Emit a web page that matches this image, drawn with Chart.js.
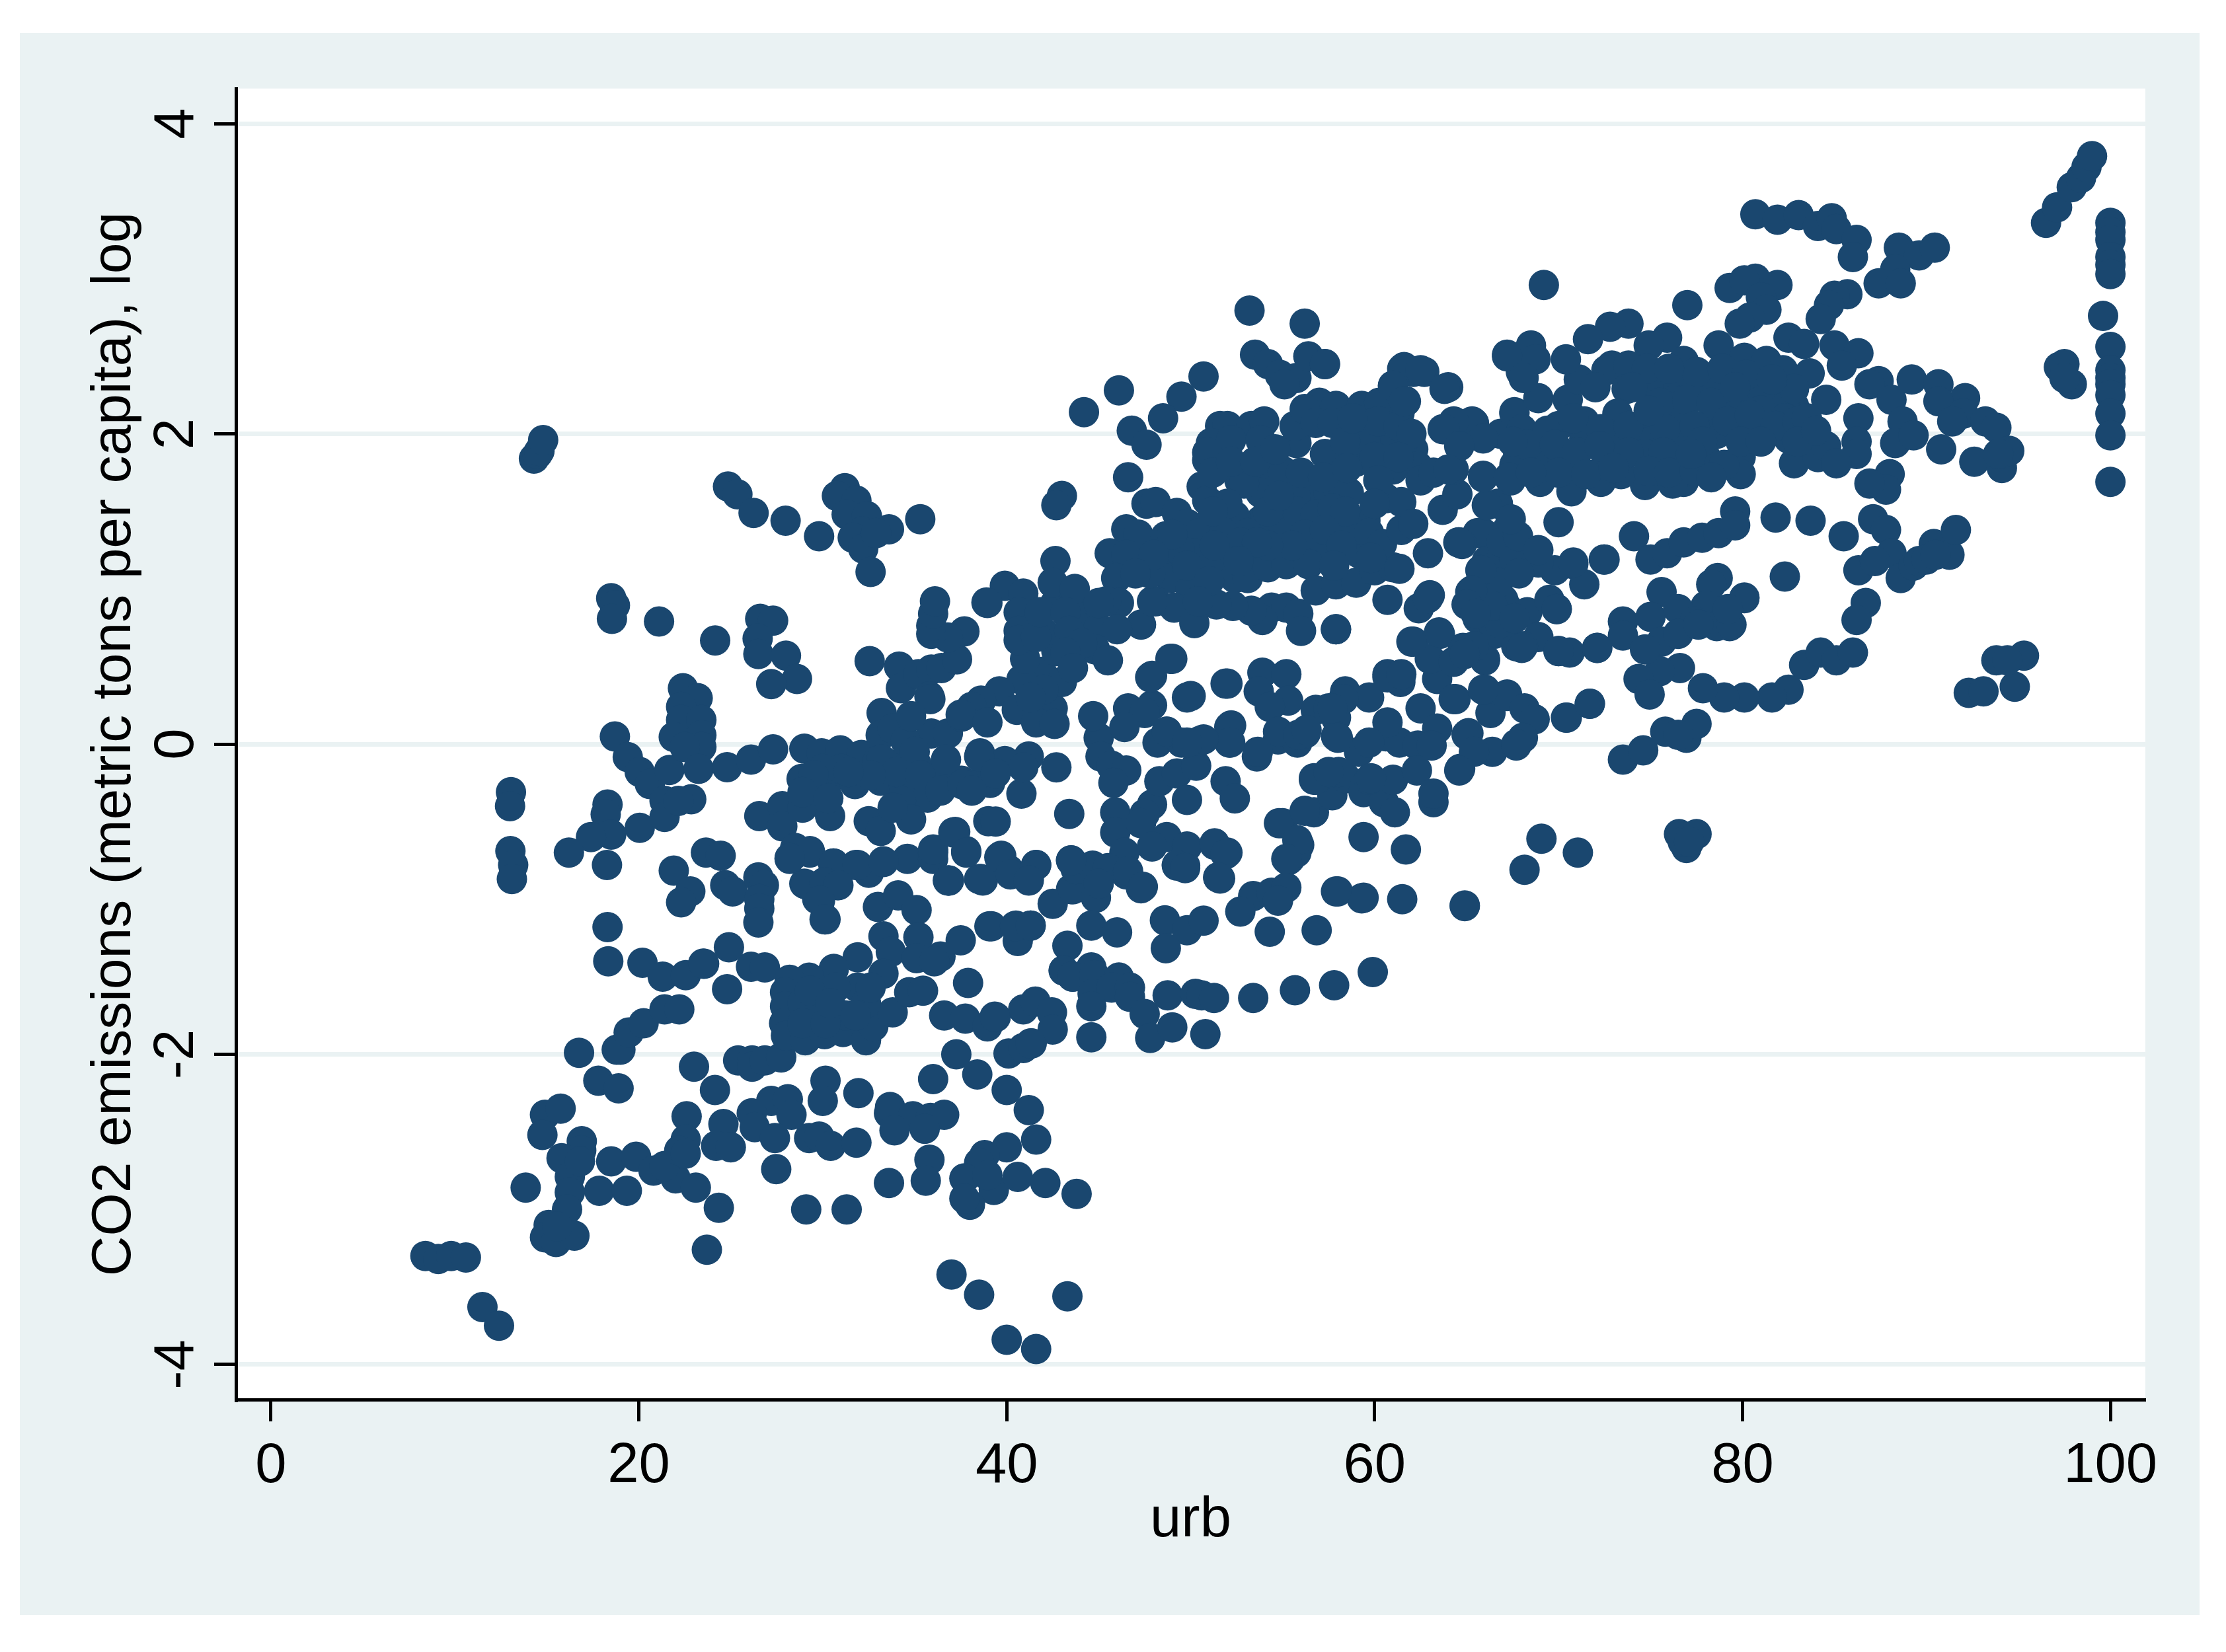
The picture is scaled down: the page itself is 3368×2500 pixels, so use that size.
<!DOCTYPE html>
<html>
<head>
<meta charset="utf-8">
<title>CO2 emissions vs urb</title>
<script src="https://cdn.jsdelivr.net/npm/chart.js@4"></script>
<style>
  body { margin: 0; background: #fff; }
  canvas { position: absolute; left: 30px; top: 50px; background: #eaf2f3; }
</style>
</head>
<body>
<canvas id="grafica" width="3298" height="2394"></canvas>
<script>
const xTicks = [0, 20, 40, 60, 80, 100];
const yTicks = [-4, -2, 0, 2, 4];

// every pair is [urb, co2]
const farLeft = [[8.4,-3.3],[9.1,-3.32],[9.8,-3.3],[10.6,-3.31],[11.5,-3.63],[12.4,-3.75],[14.3,1.84],[14.5,1.87],[14.6,1.89],[14.8,1.96],
  [13.05,-.31],[13,-.4],[13.02,-.69],[13.17,-.78],[13.1,-.87],[13.85,-2.86],[14.9,-2.39],[15.75,-2.35],[14.76,-2.52],[16.9,-2.56],[16.87,-2.62],[15.8,-2.67],[16.25,-2.79],[16.8,-2.69],[16.25,-2.89],[17.85,-2.88],[16.1,-3],
  [15.1,-3.1],[14.9,-3.18],[15.5,-3.21],[16.5,-3.17],[15.56,-3.11],[16.75,-1.99],[17.8,-2.17],[18.9,-2.22],[18.8,-1.97],[19,-1.97],[19.45,-1.86],[20.26,-1.8],[21.4,-1.71],[22.2,-1.71],
  [18.3,-1.18],[18.34,-1.4],[20.2,-1.41],[21.3,-1.5],[22.55,-1.49],[23.5,-1.415],[24.9,-1.31],[18.3,-.39],[18.2,-.453],[18.5,-.584],[17.4,-.6],[16.2,-.7],[20.05,-.54],[18.27,-.78],
  [18.5,.94],[18.7,.894],[18.54,.807],[21.1,.79],[24.15,.668],[18.7,.049],[19.4,-.084],[20.05,-.18],[20.6,-.258],[21.66,-.167],[21.4,-.366],[22.85,-.356],[21.4,-.47],[22.15,-.366]];

const lowLeft = [[22.4,.36],[23.2,.296],[22.3,.24],[22.3,.155],[23.4,.155],[23.4,.057],[21.9,.046],[23.4,-.019],[22.5,-.019],[23.25,-.16],[24.8,-.149],[26.1,-.1],[27.3,-.034],
  [23.65,-.7],[24.45,-.72],[21.9,-.816],[22.8,-.95],[22.3,-1.02],[24.7,-.91],[25.1,-.95],[26.5,-.86],[26.8,-.91],[26.55,-1],[26.55,-1.06],[26.5,-1.15],
  [24.8,-1.58],[23.55,-1.416],[26.1,-1.436],[26.85,-1.44],[23,-2.08],[24.14,-2.23],[25.4,-2.04],[26.16,-2.04],[26.16,-2.08],[26.85,-2.04],[27.74,-2.02],
  [18.5,-2.69],[19.85,-2.66],[19.35,-2.88],[20.8,-2.75],[22,-2.8],[23.1,-2.86],[24.35,-2.99],[21.4,-2.72],[22.6,-2.4],[22.55,-2.55],[22.2,-2.62],[22.55,-2.64],[24.6,-2.45],[24.2,-2.59],[25,-2.6],[23.7,-3.26],
  [27.2,-2.3],[28.1,-2.29],[26.14,-2.38],[26.3,-2.47],[28.3,-2.39],[27.4,-2.54],[29.26,-2.54],[29.8,-2.53],[30.43,-2.59],[31.83,-2.57],[27.47,-2.74],[29.1,-3],[31.3,-3],
  [30.15,-2.17],[30,-2.3],[31.94,-2.25]];

const blockAt30 = [[28.2,-.74],[28.5,-.707],[29.3,-.7],[29,-.9],[30.56,-.77],[31.8,-.78],[32.5,-.83],[33.3,-.756],[34.6,-.74],[36,-.7],[36,-.74],[36.86,-.88],[37.8,-.69],[38.7,-.88],[39.7,-.72],[40.1,-.81],[41.2,-.86],[41.6,-.78],
  [30.8,-.91],[29.7,-1],[30.15,-1.13],[33,-1.05],[34.1,-.976],[35.1,-1.07],[33.3,-1.24],[35.2,-1.245],[33.7,-1.34],[36.4,-1.37],[37.5,-1.265],[35.1,-1.38],[36.06,-1.4],[39.06,-1.175],[40.5,-1.17],[41.3,-1.17],[40.6,-1.27],[37.9,-1.54],
  [31.9,-1.375],[30.6,-1.45],[29.26,-1.506],[28.2,-1.52],[27.95,-1.6],[27.95,-1.69],[27.9,-1.8],[28,-1.88],[29.05,-1.91],[30.1,-1.87],[31.1,-1.856],[32.35,-1.91],[32.75,-1.82],[33.8,-1.73],[34.7,-1.6],[35.45,-1.59],[33.3,-1.48],[31.9,-1.57],[30.7,-1.57],[28.9,-1.67],[29.9,-1.7],[31.25,-1.75],[28.9,-1.8],[32.35,-1.67],[30.15,-1.8],[32.6,-1.57],[29.3,-1.59],[30.4,-1.67],[31.8,-1.75],
  [36,-2.16],[37.26,-2],[38.4,-2.13],[40,-2.23],[41.2,-2.36],[41.6,-2.55],[40.1,-1.995],[40.9,-1.96],[41.36,-1.93],[36.6,-1.75],[37.75,-1.77],[38.95,-1.82],[39.4,-1.76],[40.9,-1.71],[41.56,-1.66],[42.46,-1.73],[42.5,-1.84],
  [33.6,-2.38],[33.66,-2.34],[34.9,-2.4],[35.86,-2.41],[36.6,-2.39],[33.9,-2.49],[35.54,-2.48],[35.8,-2.68],[35.6,-2.815],[33.6,-2.83],[40,-2.6],[38.8,-2.65],[38.5,-2.7],[37.7,-2.8],[39.3,-2.875],[38,-2.97],[37.7,-2.93],[40.6,-2.79],[42.1,-2.83],[43.8,-2.9],[38.95,-2.78],
  [43.3,-3.56],[40,-3.84],[41.6,-3.9],[37,-3.42],[38.5,-3.55]];

const bandAtZero = [[29,-.03],[29.94,-.06],[30.95,-.04],[32.1,-.07],[28.85,-.225],[30.2,-.258],[31.75,-.258],[33.15,-.236],[33.2,.2],[33.15,.057],[34.25,.068],[35.9,.068],[35.1,-.13],[34.4,-.258],[35.7,-.345],[37.55,-.236],[38.3,-.258],[38.55,-.06],[36.8,.068],[37.55,.177],[38.5,.26],[34.07,-.13],[33,-.106],[36.1,-.215],[34.25,-.367],
  [26.55,-.464],[27.8,-.4],[27.8,-.53],[28.9,-.41],[30.4,-.464],[32.5,-.497],[33.15,-.56],[34.8,-.486],[33.8,-.41],[28.5,-.67],[29.3,-.69],[28.2,-.735],[30.6,-.77],[31.9,-.78],[33.3,-.76],[36,-.68],[37.2,-.567],[36.85,-.88],[38.5,-.87],[39,-.497],
  [29.1,-.905],[30.1,-.89],[30.85,-.91],[29.85,-1.01],[30.1,-1.13],[43.5,-.75],[43.5,-.935],[42.5,-1.03],[44,-.85],[43.3,-1.3],[43.1,-1.46],[43.6,-1.5],[44.6,-1.44],
  [32.55,.535],[34.15,.5],[34.25,.36],[35.2,.45],[35.9,.48],[36.45,.49],[37.3,.546],[37.7,.726],[36.8,.687],[35.9,.71],[35.9,.763],[36,.84],[36.1,.92],[35.8,.307],[38.9,.913],[35.85,.29],
  [24.85,1.66],[25.36,1.61],[26.24,1.49],[27.98,1.44],[29.8,1.34],[31.2,1.65],[30.77,1.6],[31.83,1.57],[31.3,1.48],[32.4,1.47],[32.14,1.37],[31.63,1.33],[32.2,1.26],[32.6,1.11],[33.6,1.385],[32.9,1.36],[35.3,1.45],
  [26.6,.807],[27.3,.796],[26.46,.68],[26.5,.58],[28,.57],[28.6,.42],[27.2,.387],
  [33.8,.1],[34.5,.02],[35,-.05],[33.2,-.1],[34,-.18],[35.3,-.2],[36.7,-.1],[34.8,.18],[36.4,-.3],[32.6,-.2],[31,-.16],[30,-.16],[29.5,-.2],[28.9,-.31],[30.3,-.35],[31.4,-.18]];

const midLow = [[43.6,-.936],[44.85,-.99],[43.75,-.806],[44.67,-.784],[46.5,-.84],[47.3,-.93],[49.25,-.784],[49.7,-.784],[51.6,-.867],[55.3,-.75],[61.7,-.68],[58,-.95],[59.3,-.995],[61.5,-1],[64.9,-1.045],[53.4,-.98],[54.4,-.958],[55.2,-.925],[54.75,-1.01],[52.7,-1.08],
  [48.6,-1.136],[49.8,-1.2],[50.7,-1.138],[48.65,-1.316],[54.3,-1.21],[56.85,-1.2],[44.6,-1.17],[46,-1.214],[39.17,-1.175],[40.45,-1.175],[41.3,-1.17],[43.1,-1.46],[43.57,-1.5],[44.76,-1.49],[46.1,-1.505],[44.67,-1.61],[45.7,-1.57],[46.7,-1.57],[46.7,-1.63],[44.6,-1.69],[47.5,-1.74],[47.8,-1.895],[49,-1.826],[44.6,-1.89],[50.8,-1.87],
  [48.75,-1.62],[50.26,-1.61],[50.6,-1.62],[51.27,-1.637],[53.4,-1.637],[55.67,-1.587],[57.8,-1.555],[59.9,-1.47],[39.35,-1.757],[41.3,-1.93],
  [59.4,-.99],[57.9,-.95],[59.4,-.6],[52,-.7],[51.3,-.65],[51.5,-.86],[55,-.51],[55.9,-.65],[55.4,-.74],[55.75,-.7],[56.7,-.44],[57.7,-.33],[56.7,-.22],[57.45,-.19],[58.45,-.22],[59.4,-.31],[60.5,-.375],[61.1,-.44],[63.2,-.375],
  [45.9,-.44],[47.9,-.39],[47.5,-.45],[43.4,-.45],[39.4,-.5],[40.8,-.32],[42.7,-.15],[41.2,-.08],[39.9,-.11],[38.5,-.08],[40.9,-.15],[39.1,-.25],[37.6,-.26],[38.1,-.3],[39.4,-.19],[37.1,-.57],[37.8,-.7],[39.6,-.73],[41.6,-.78],[40.2,-.84],[41.2,-.88],[38.6,-.87],[36.8,-.88],
  [45.9,-.57],[47.3,-.51],[48.7,-.6],[49.8,-.66],[51.3,-.64],[51.9,-.71],[49.25,-.78],[49.7,-.8],[47.9,-.66],[46.4,-.7],[45.5,-.8],[43.5,-.75],[46.6,-.82],[45,-.9],[47.4,-.92],[51.5,-.86],[54.8,-.51],[55.8,-.62],[55.2,-.74],[56.2,-.43],[56.7,-.23],
  [45,.04],[45.1,-.08],[45.7,-.14],[46.5,-.17],[45.8,-.25],[48.3,-.24],[49.25,-.19],[50.3,-.14],[49.8,-.36],[51.9,-.24],[52.4,-.35],[44.7,.18],[46.6,.23],[47.9,.25],[47.5,.2],[46.4,.11],[48.7,.08],[48.2,.01],[49.5,.01],[50.5,.02],[52.1,.11],[52.1,.01],[53.6,-.08],[54.75,.03],[55.8,.01],[56.25,.07],
  [48.9,.55],[47.8,.43],[49.8,.3],[51.9,.39],[53.9,.46],[55.2,.45],[53.7,.34],[55.3,.28],[54.3,.24],[56.8,.22],[41.9,.465],[40.8,.415],[39.6,.34],[38.6,.28],[38.1,.24],[37.5,.19],[38.95,.14],[40.55,.22],[42.5,.23],[41.6,.14],[42.6,.13],[43,.4],
  [50,.31],[49,.55],[47.9,.44],[52,.39],
  [42,.72],[42.7,.6],[41,.55],[42,.35],[41.3,.3],[43.8,.6],[44.4,.85],[42.6,.9],[44,.75],[45,.75]];

const midUpper = [[53.2,2.795],[56.2,2.71],[53.5,2.51],[54.2,2.45],[54.85,2.38],[55.75,2.36],[56.4,2.5],[57.3,2.45],[55.1,2.32],[50.7,2.37],[49.5,2.24],[48.5,2.1],[46.1,2.28],[44.2,2.14],[46.8,2.02],[47.6,1.93],[46.6,1.72],[43,1.6],[42.7,1.54],
  [47.6,1.55],[48.1,1.56],[49.25,1.49],[46.5,1.385],[47.15,1.35],[48.65,1.34],[45.6,1.23],[46.5,1.22],[45.95,1.07],[42.65,1.18],[42.5,1.04],[39.9,1.02],[40.9,.97],[43.7,1],[38.95,.91],
  [50.6,1.66],[50.9,1.57],[49.8,1.42],[50.5,1.36],[50.2,1.23],[48.7,1.2],[48.9,1.07],[50,1],[48.1,.92],[49.1,.88],[50.2,.78],[47.3,.77],[46.1,.91],[45.4,.92],[47.9,.92],
  [40.65,.85],[40.65,.73],[40.65,.67],[41.6,.69],[41.8,.85],[43.2,.85],[43.4,.73],[45,.91],[46,.74],[44.8,.61],[44.1,.65],[43.2,.59],[45.5,.54],[43.6,.49],
  [51.6,2.05],[52,2.05],[53.3,2.05],[54,2.08],[51.1,1.94],[50.9,1.83],[52.2,1.96],[53.8,1.96],[50.9,1.88],[52.65,1.7],[53.65,1.7],[55,1.76],[55.75,1.94],[55.65,2.05],[57,2.2],[57.9,2.18],[56.2,2.16],[56.8,2.07],[57.7,2.07],
  [59.3,2.18],[60.25,2.2],[61,2.31],[61.5,2.42],[62.1,2.4],[62.7,2.4],[64,2.3],[61.7,2.21],[61.35,2.13],[59.9,2.07],[59.15,2.03],[61.5,1.96],[60.6,1.9],[62.1,1.9],[62.35,1.79],[61,1.77],
  [57.3,1.87],[59,1.82],[58,1.73],[56.4,1.6],[55.7,1.6],[57.5,1.62],[58.6,1.62],[60.6,1.585],[61.45,1.56],[53.8,1.44],[55,1.42],[53.8,1.62],[52.9,1.68],[52.4,1.47],[55.1,1.36],[53.1,1.36],[51.8,1.36],[51.8,1.23],[53.5,1.2],[54.75,1.18],[56.1,1.2],[57.3,1.23],[51.3,1.14],[52.4,1.07],[53.1,1.07],[54.2,1.14],[55.2,1.16],[56.4,1.16],
  [56.8,.99],[57.9,1.03],[59,1.04],[60,1.12],[61,1.14],[61.35,1.13],[60.7,.93],[59.15,1.23],[59,1.38],[59.5,1.44],[58.2,1.4],[59.7,1.36],[60.4,1.29],[61.45,1.38],[62.1,1.42],[63.7,1.51],[64.5,1.61],[62.9,1.23],[64.55,1.3],[65.6,1.36],
  [54.4,.88],[55.2,.88],[55.85,.84],[53.9,.8],[53.3,.86],[52.3,.89],[51.4,.9],[56,.73],[57.9,.74],
  [59.5,1.95],[60.2,2.08],[61.3,2.05],[62,2],[60,1.85],[61.3,1.85],[62.5,1.7],[60.2,1.7],[58.4,1.95],[58.8,2.1],[63.2,1.75],
  [56,1.75],[57.2,1.72],[58.5,1.78],[55.8,1.5],[56.8,1.48],[57.7,1.52],[58.4,1.5],[60,1.55],[56.2,1.35],[57.3,1.38],[58.2,1.28],[59.8,1.2],[55.5,1.28],[54.2,1.28],[57.8,1.15],
  [51.2,1.75],[52,1.55],[51.2,1.5],[52.7,1.3],[51.3,1.28],[53.6,1.3],[54.2,1.5],[54.8,1.6],[52.2,1.82],[53.5,1.82],[54.6,1.9],[52.6,1.18],[49.4,1.25],[49,1.35],[49.8,1.15],[51,1.05],[50.4,.92],[47.8,1.1],[48,1.22],[47,1.1]];

const midRight = [[63,.96],[62.4,.875],[62.1,.66],[63.55,.71],[64.8,.62],[66,.55],[64.4,.29],[63.4,.42],[63,.55],[60.7,.45],[61.4,.4],[58.4,.34],[59.7,.3],[62.5,.23],[57.9,.17],[66,.35],[67.2,.32],[66.3,.2],
  [57.5,.23],[57.9,.05],[54.75,.08],[55.85,.06],[56.3,.09],[53.65,-.05],[52.2,.12],[52.15,.01],[50.7,.03],[48.7,.08],[49.8,.01],[59.15,-.05],[60.6,.05],[61.35,.01],[62.35,-.01],[63.4,.1],[65.1,.07],[66.4,-.05],[67.7,-.01],[64.65,-.16],[59.7,-.23],[61,-.23],[56.8,-.23],[58.05,-.18],[57.5,-.18],
  [66.7,1.55],[65.2,.98],[65.2,.9],[65.6,.81],[66.7,.92],[66.5,.71],[67.7,.63],[67.2,2.51],[67.95,2.4],[67.6,2.14],[67.4,1.7],[65.9,1.73],[65.4,2.07],[63.7,2.03],[64.3,2.04],[66.85,2],[64.3,1.77],[67.8,1.88],[65.9,1.36],[66.1,1.18],[65.75,1.12],[67.2,1.38],[67.2,1.14],[67.2,.88],
  [72.46,1.19],[70.8,1.16],[71.4,1.03],[69.8,1.12],[68.9,1.17],[66.9,1.3],[64.75,1.29],[66.1,1.13],[67.6,1.19],[67.8,1.34],[66.8,.78],[67,.93],[68.3,.85],[69.5,.93],[69.9,.87],[66.7,1.04],
  [68.9,.69],[68.06,.63],[70,.6],[70.6,.59],[72.1,.62],[64.85,.61],[66,.54],[64.3,.53],[65.4,.63],[65.95,.35],[67.2,.31],[68.15,.23],[68.7,.16],[68.06,.04],[67.7,0],[64.3,.29],[70.4,.17],[71.7,.26],[65,.06],[65.4,-.05],[64.6,-.17],[64.9,-1.04],[69.07,-.61],[71.05,-.7],[68.15,-.81],
  [66.1,1.54],[67.4,1.45],[64.6,1.3],[65.8,1.12],[66.4,.89],[65.3,.99],[65,.9],[67.85,1.1],[68.9,1.25],[67.6,.81],[65.5,.84],[63.5,.72],[62,.66],[62.9,.94],[57.9,.74],[60.7,.43],[61.45,.45],[58.3,.29],[57.7,.23],[64.9,.58],[68,.62],[65.9,.35],[63.1,-.01],[60.7,.14],[59.7,.01],[58,.04],[62.3,-.17],[59.8,-.22],[63.2,-.32]];

const upperRight = [[80.7,3.415],[81.9,3.38],[83.05,3.41],[84.1,3.34],[84.85,3.39],[85.1,3.32],[86.2,3.25],[86,3.14],[88.5,3.2],[89.6,3.15],[90.45,3.2],[88.3,3.06],[87.4,2.97],[88.6,2.97],
  [96.5,3.36],[97.1,3.46],[97.9,3.59],[98.4,3.65],[98.7,3.72],[99,3.79],[100,3.36],[100,3.3],[100,3.25],[100,3.14],[100,3.09],[100,3.03],[99.6,2.76],[100,2.56],[100,2.41],[100,2.36],[100,2.32],[100,2.25],[100,2.13],[100,1.99],[100,1.69],[97.2,2.43],[97.5,2.45],[97.9,2.32],[97.5,2.36],
  [69.2,2.96],[77,2.83],[79.3,2.94],[80.7,3],[80.1,2.99],[81.9,2.96],[81,2.88],[81.3,2.8],[80.4,2.75],[79.85,2.71],[85.7,2.9],[85,2.89],[84.7,2.83],[84.25,2.74],[82.5,2.62],[83.35,2.58],[85,2.57],[86.3,2.52],[85.4,2.44],[84.55,2.22],
  [82.8,2.18],[83.65,2.39],[78.7,2.57],[75.9,2.62],[73.8,2.71],[72.8,2.69],[71.6,2.61],[74.9,2.57],[72.9,2.44],[72.6,2.41],[73.8,2.44],[73.7,2.29],[75.3,2.3],[76.8,2.47],[80.1,2.49],[81.3,2.47],[82.2,2.41],[81.9,2.18],[79.2,2.36],[78,2.29],[76.5,2.29],[79.8,2.21],[81,2.29],[82.8,2.29],[78.6,2.13],[76.8,2.13],[75,2.08],[73.2,2.13],[71.4,2.08],[70,2.05],[71.4,1.97],[73.2,1.97],[75,1.95],[76.8,1.97],[78.6,2],[80.7,2.03],[76.2,1.8],[78,1.85],[79.9,1.85],[79.9,1.74],[79,1.8],[76.8,1.69],[74.7,1.67],[73.4,1.74],[72.3,1.69],[70.7,1.63],[69,1.69],[67.6,1.8],[69,1.85],[70.5,1.8],[72.6,1.82],[74.7,1.87],[67.6,2.13],[68.9,2.23],[70.5,2.22],[71.1,2.35],[70.4,2.48],[68.5,2.57],[68.75,2.48],[67.2,2.5],[68.1,2.36],[65.3,2.08],[64.3,2.08],[63.8,2.03],[65.9,1.97],[64.6,1.92],[64,1.77],[65.9,1.72],[67.3,1.72],[61.6,2.43],[62.5,2.41],[61,2.31],[63.8,2.29],[61.6,2.21],[57.3,2.45],
  [87.4,2.34],[86.9,2.32],[88.1,2.22],[89.2,2.35],[90.65,2.32],[92.1,2.23],[90.65,2.21],[92,2.13],[91.4,2.08],[93.2,2.08],[93.8,2.04],[90.8,1.9],[92.6,1.82],[94.1,1.78],[94.5,1.89],[93.9,1.87],[86.3,2.1],[86.2,1.95],[86.2,1.87],[88.7,2.08],[88.3,1.94],[89.3,1.99],[88,1.74],[87.8,1.64],[86.9,1.68],[82.5,1.97],[82.8,1.81],[84.1,1.85],[84.55,1.92],[85.1,1.81],[76.2,1.68],
  [76.2,2.4],[77.5,2.4],[78.9,2.42],[80.2,2.38],[81.6,2.35],[75.5,2.2],[77,2.22],[78.3,2.2],[79.6,2.3],[81,2.15],[82.3,2.1],[75.8,2.03],[77.4,2.05],[79.2,2.08],[80.4,2.12],[81.8,2.05],[83,2.08],[77.8,1.95],[79.9,1.95],[81,1.95],
  [68,2.03],[69.4,2.02],[70.8,2.1],[72.3,2.03],[73.8,2.05],[74.9,2.15],[68.3,1.93],[69.8,1.93],[71,1.88],[72.2,1.92],[73.8,1.88],[75.7,1.88],[70,1.75],[71.5,1.74],[73,1.78],[74.9,1.76],[76,1.75],[77.4,1.76],[78.3,1.72],[68.5,1.75],[67.5,1.95],[77.2,1.87],
  [74.8,2.42],[76,2.42],[74,2.3],[72,2.3],[83.5,2.1],[83,1.95],[84,2.02]];

const lowerRight = [[70,1.43],[74.1,1.34],[75,1.19],[75.9,1.23],[76.8,1.3],[77.8,1.33],[78.7,1.36],[79.6,1.5],[79.6,1.41],[81.8,1.46],[83.7,1.44],[85.5,1.34],[87.1,1.45],[87.8,1.38],[86.3,1.12],[88.1,1.23],[87.2,1.18],[88.6,1.07],[89.3,1.15],[90.4,1.29],[91.25,1.22],[91.6,1.38],[89.6,1.18],[90,1.19],[90.5,1.22],
  [86.7,.91],[86.2,.8],[83.35,.51],[84.25,.59],[85.1,.54],[86,.59],[82.5,.35],[81.6,.3],[80.1,.3],[79,.3],[77.85,.36],[76.6,.49],[75.5,.47],[74.35,.42],[74.95,.32],[82.3,1.08],[78.65,1.07],[80.1,.94],[78.3,1.03],[75.6,.98],[73.5,.79],[73.5,.7],[79.3,.76],[75,.82],[78,.89],[76.5,.87],[77.4,.79],[78.6,.76],[75.6,.66],[74.7,.61],[76.5,.71],
  [79.4,.77],[77.6,.77],[80.1,.945],[79.2,.87],[72.5,1.19],[70.8,1.17],
  [93.8,.54],[95.3,.57],[92.3,.33],[93.1,.34],[94.8,.37],[94.4,.54],[70,.6],[72.1,.62],[69.9,.87],
  [73.5,-.1],[74.6,-.04],[75.8,.08],[76.95,.04],[77.5,.13],[76.5,.06],[70.45,.17],[71.7,.26],[76.55,-.58],[77.5,-.58],[76.95,-.67],[76.75,-.63],[77.1,-.63]];

const allPoints = [...farLeft, ...lowLeft, ...blockAt30, ...bandAtZero, ...midLow, ...midUpper, ...midRight, ...upperRight, ...lowerRight];

const plotBackground = {
  id: "plotBackground",
  beforeDraw(chart) {
    const a = chart.chartArea;
    chart.ctx.fillStyle = "#ffffff";
    chart.ctx.fillRect(a.left, a.top, a.right - a.left, a.bottom - a.top);
  }
};

new Chart(document.getElementById("grafica"), {
  type: "scatter",
  data: {
    datasets: [{
      data: allPoints.map(p => ({ x: p[0], y: p[1] })),
      backgroundColor: "#1a476f",
      borderWidth: 0,
      pointRadius: 23
    }]
  },
  options: {
    responsive: false,
    animation: false,
    layout: { padding: { top: 84, right: 82, left: 0, bottom: 0 } },
    plugins: { legend: { display: false }, tooltip: { enabled: false } },
    scales: {
      x: {
        type: "linear",
        min: -1.9,
        max: 101.9,
        afterFit: s => { s.height = 326; },
        afterBuildTicks: s => { s.ticks = xTicks.map(v => ({ value: v })); },
        border: { color: "#000", width: 5 },
        grid: { drawOnChartArea: false, tickLength: 33, tickWidth: 5, tickColor: "#000" },
        ticks: { color: "#000", padding: 18, maxRotation: 0, autoSkip: false, font: { family: "Liberation Sans", size: 85 } },
        title: { display: true, text: "urb", color: "#000", padding: { top: 0, bottom: 91 }, font: { family: "Liberation Sans", size: 85 } }
      },
      y: {
        type: "linear",
        min: -4.226,
        max: 4.226,
        afterFit: s => { s.width = 327; },
        afterBuildTicks: s => { s.ticks = yTicks.map(v => ({ value: v })); },
        border: { color: "#000", width: 5 },
        grid: { color: "#eaf2f3", lineWidth: 7, tickLength: 33, tickWidth: 5, tickColor: "#000" },
        ticks: { color: "#000", padding: 18, minRotation: 90, maxRotation: 90, crossAlign: "center", autoSkip: false, font: { family: "Liberation Sans", size: 85 } },
        title: { display: true, text: "CO2 emissions (metric tons per capita), log", color: "#000", padding: { top: 93, bottom: 0 }, font: { family: "Liberation Sans", size: 84 } }
      }
    }
  },
  plugins: [plotBackground]
});
</script>
</body>
</html>
